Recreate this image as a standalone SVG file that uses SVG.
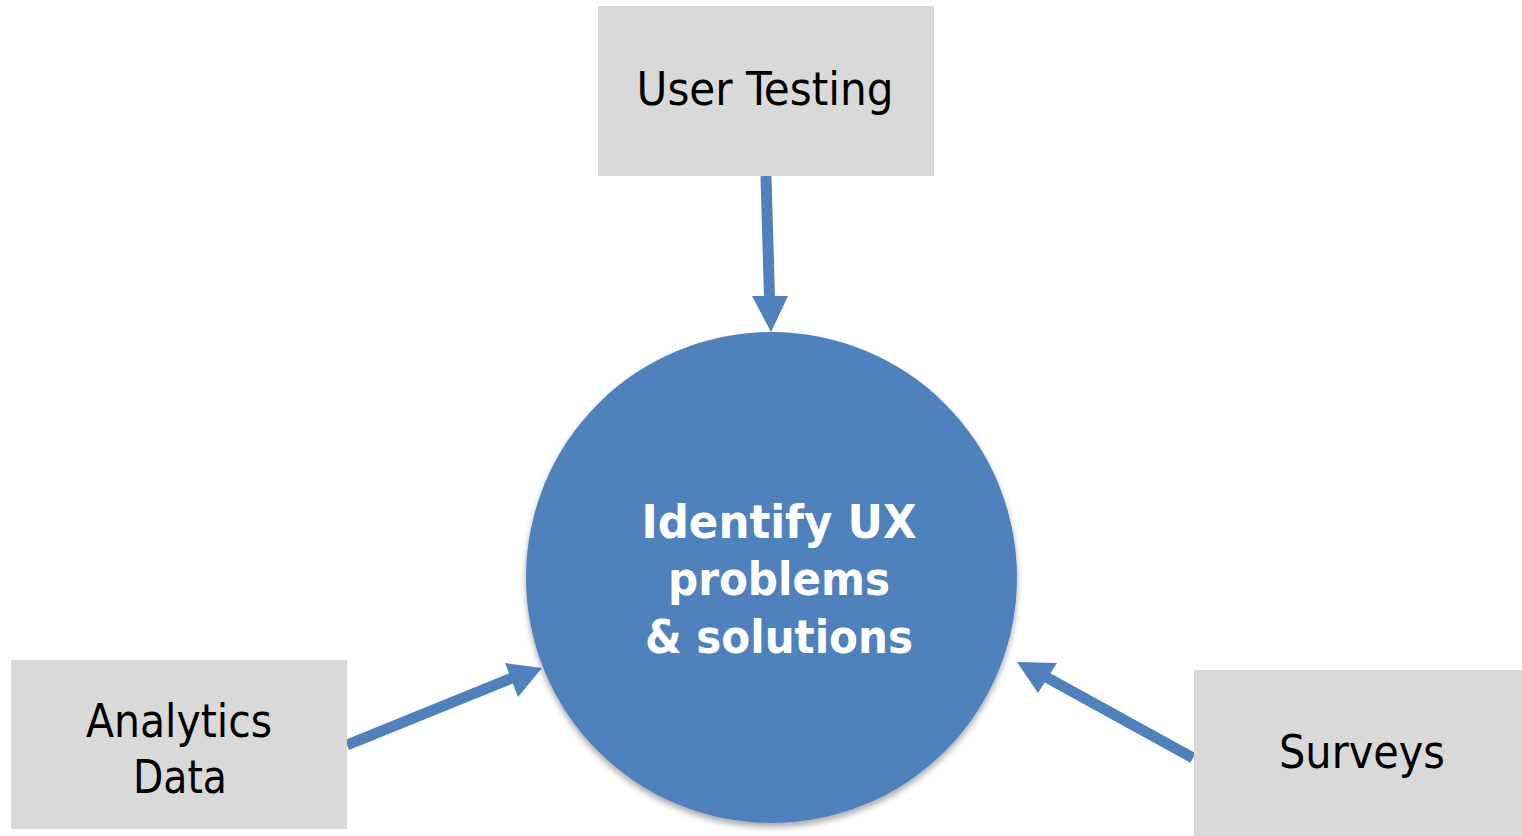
<svg xmlns="http://www.w3.org/2000/svg" width="1522" height="836" viewBox="0 0 1522 836">
<defs>
<style>
.box{fill:#D9D9D9;}
.lbl{font-family:"DejaVu Sans Condensed","DejaVu Sans",sans-serif;font-size:47px;fill:#000;text-anchor:middle;}
.ctr{font-family:"DejaVu Sans Condensed","DejaVu Sans",sans-serif;font-weight:bold;font-size:47px;fill:#fff;text-anchor:middle;}
.shaft{stroke:#4F81BD;stroke-width:11;fill:none;}
.head{fill:#4F81BD;}
</style>
<filter id="sh" x="-10%" y="-10%" width="120%" height="125%">
<feGaussianBlur in="SourceAlpha" stdDeviation="3"/>
<feOffset dx="0" dy="4" result="b"/>
<feComponentTransfer><feFuncA type="linear" slope="0.35"/></feComponentTransfer>
<feMerge><feMergeNode/><feMergeNode in="SourceGraphic"/></feMerge>
</filter>
</defs>
<rect width="1522" height="836" fill="#fff"/>
<g id="connectors">
<line class="shaft" x1="766" y1="176" x2="769.5" y2="298"/>
<polygon class="head" points="752,296 788,296 771,332"/>
<line class="shaft" x1="347" y1="745" x2="512" y2="678"/>
<polygon class="head" points="505,663 542,668 518,697"/>
<line class="shaft" x1="1193" y1="758" x2="1046" y2="677"/>
<polygon class="head" points="1057,663 1017,662 1038,693"/>
</g>
<g id="node-center">
<circle cx="771.5" cy="577.5" r="245.5" fill="#4F81BD" filter="url(#sh)"/>
<text class="ctr" x="779" y="538" textLength="275" lengthAdjust="spacingAndGlyphs">Identify UX</text>
<text class="ctr" x="779" y="595" textLength="222" lengthAdjust="spacingAndGlyphs">problems</text>
<text class="ctr" x="779" y="653" textLength="268" lengthAdjust="spacingAndGlyphs">&amp; solutions</text>
</g>
<g id="node-user-testing">
<rect class="box" x="598" y="6" width="336" height="170"/>
<text class="lbl" x="765" y="105" textLength="257" lengthAdjust="spacingAndGlyphs">User Testing</text>
</g>
<g id="node-analytics">
<rect class="box" x="11" y="660" width="336" height="169"/>
<text class="lbl" x="179" y="737" textLength="186" lengthAdjust="spacingAndGlyphs">Analytics</text>
<text class="lbl" x="180" y="793" textLength="94" lengthAdjust="spacingAndGlyphs">Data</text>
</g>
<g id="node-surveys">
<rect class="box" x="1194" y="670" width="328" height="166"/>
<text class="lbl" x="1362" y="768" textLength="166" lengthAdjust="spacingAndGlyphs">Surveys</text>
</g>
</svg>
